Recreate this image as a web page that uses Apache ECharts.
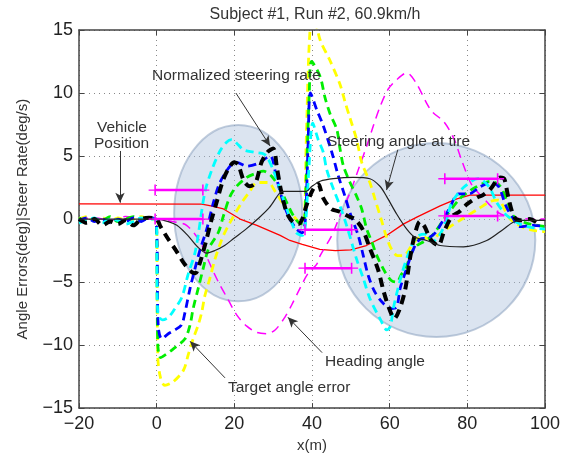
<!DOCTYPE html>
<html>
<head>
<meta charset="utf-8">
<script src="https://cdn.jsdelivr.net/npm/echarts@6/dist/echarts.min.js"></script>
<style>
  html, body { margin: 0; padding: 0; background: #fff; }
  #chart { width: 572px; height: 458px; }
</style>
</head>
<body>
<div id="chart"></div>
<script>
var FONT = '"Liberation Sans", Arial, sans-serif';

// axis ticks
var xTicks = [-20, 0, 20, 40, 60, 80, 100];
var yTicks = [-15, -10, -5, 0, 5, 10, 15];

// Vehicle position (red)
var vehiclePos = [[-20,1.2],[11.6,1.18],[14,1.05],[17.2,0.8],[21.5,0],[25.8,-0.5],[31.8,-1.3],[34.3,-1.7],[37.5,-2.0],[42,-2.4],[46,-2.5],[50,-2.45],[54,-2.1],[59.2,-1.3],[63.5,-0.4],[67,0.15],[73,1.05],[77.3,1.6],[80.7,1.9],[100,1.9]];

// Steering angle at tire (thin black)
var steerAngle = [[-20,0],[-10,0],[0,0],[3,-0.2],[5.2,-0.5],[8,-1.3],[10.5,-2.2],[12.9,-2.7],[15,-2.5],[17.5,-2.1],[20,-1.5],[23,-0.8],[26,0],[29,0.9],[31.5,2.0],[32.5,2.2],[38.5,2.2],[40,2.6],[42.1,3.0],[45.5,3.2],[50.6,3.3],[54.9,3.2],[57.5,2.6],[59.2,1.8],[61.8,0.4],[64.4,-0.8],[66.5,-1.45],[69.5,-1.7],[73,-2.1],[79,-2.2],[85,-1.7],[89.3,-0.8],[91.8,-0.26],[94,-0.1],[100,-0.1]];

// Normalized steering rate (thick black dashed)
var steerRate = [[-20,0],[-18,-0.3],[-16,0],[-14,-0.5],[-12,-0.2],[-10,-0.4],[-8,-0.1],[-6,-0.5],[-4,0],[-2,0.1],[0,0],[1,-0.6],[3,-1.6],[5,-2.5],[7,-3.5],[9,-4.2],[10,-4.3],[11,-3.6],[12.5,-2],[14,-0.2],[15.5,1.4],[17,3],[18.5,4],[20,4.5],[21,4.3],[22.5,3],[24,2.6],[25.5,2.9],[27,4.5],[28.5,5.3],[30,5.6],[31,4],[32,2.3],[33.5,0.5],[35,-0.2],[36.5,-0.4],[37.5,0],[38.5,1],[40,2.2],[41.5,2.8],[43,1.6],[45,0.8],[47,0.6],[49.5,0.2],[51,0],[53,-0.8],[55,-2.4],[57,-4],[58.5,-5.8],[60,-7.2],[61.2,-7.9],[62.5,-7.2],[64,-5.6],[65.3,-3],[66.5,-1.2],[67.8,-0.2],[69,-0.6],[70.5,-1.6],[72.5,-2.1],[74,-1],[76,0.2],[78,0.6],[80,1.2],[82.5,1.7],[84,1.9],[86,2.4],[88.5,3.3],[89.5,3.2],[90.5,1.8],[92,0.2],[93.5,-0.1],[96,0],[98,-0.3]];

// Target angle errors (coloured dashed)
var errCyan = [[-20,-0.3],[-18,-0.1],[-16,0.1],[-14,-0.3],[-12,0],[-10,-0.1],[-8,-0.4],[-6,-0.2],[-4,0.1],[-2,0],[-0.2,0],[0.3,-7.5],[1.5,-8.0],[3,-7.8],[4.5,-7.2],[6.5,-6.2],[8,-4.5],[10,-2.5],[12.4,2.1],[14.2,3.9],[16.3,5.4],[18,6.1],[19.3,6.3],[21,5.9],[22.3,5.5],[25,5.3],[27.9,5.1],[30,3.9],[32.6,1.6],[34.8,-0.3],[36,-1.1],[37.5,-1.3],[38.3,-0.5],[39.2,4],[40.2,7.6],[41.6,6.3],[42.9,5.3],[43.8,3.9],[45.5,2.4],[47.2,1.05],[48.9,-0.5],[51.5,-3.2],[53.2,-4.7],[54.9,-6.3],[57.5,-7.9],[59.3,-8.8],[60.2,-8.5],[61,-7],[63,-4.5],[65,-2.6],[67,-1.4],[69,-1.2],[71,-1.8],[73,-1.2],[74.7,0],[76,1.3],[79,2.5],[82.8,3.2],[85.5,2.6],[87.6,1.3],[90.1,0.3],[93.6,-0.4],[97,-0.7],[100,-0.8]];
var errBlue = [[-20,-0.1],[-18,0.1],[-16,-0.2],[-14,0],[-12,-0.3],[-10,0],[-8,-0.2],[-6,0.1],[-4,-0.2],[-2,0.1],[-0.2,0],[0.4,-8.5],[1.3,-9.5],[3,-9.1],[4.7,-8.8],[6.4,-8.4],[7.3,-7.4],[8.6,-5.5],[9.9,-3.9],[11.2,-2.4],[12.9,-0.8],[14.6,1.3],[16.3,2.9],[18.9,4.2],[20.6,4.5],[23.2,4.2],[26,4.4],[29.2,5.0],[30.9,3.2],[32.6,1.3],[34.3,0],[36,-0.8],[37.5,-1.1],[38.3,0],[39,6],[39.6,10],[41.2,8.7],[42.9,7.4],[45.1,5.3],[46.8,3.4],[48.5,1.8],[50,0.3],[51.9,-1.3],[53.2,-2.9],[54.5,-4.5],[56.2,-5.8],[58.4,-6.7],[60.5,-7.1],[61.8,-7.0],[62.7,-5.5],[64.4,-3.9],[66.1,-2.4],[67.8,-1.6],[70,-1.5],[72,-1.0],[75.5,0.9],[77.7,2.0],[80.5,2.0],[83,2.5],[86,2.9],[88,2.6],[90,1.0],[91.5,0.2],[93.6,-0.6],[97,-0.5],[100,-0.6]];
var errGreen = [[-20,0.1],[-18,-0.2],[-16,0],[-14,-0.1],[-12,0.2],[-10,-0.2],[-8,0],[-6,0.2],[-4,-0.1],[-2,0.1],[-0.2,0],[0.3,-10],[1,-11],[2.1,-10.8],[4.3,-10.3],[7.3,-9.5],[8.6,-8.4],[9.4,-7.1],[10.7,-5.5],[12,-3.9],[13.3,-2.4],[15.9,-1.05],[17.2,0.26],[18.9,1.8],[20.6,2.6],[23.2,3.3],[25.3,3.6],[27.5,3.8],[29.6,3.4],[31.8,2.4],[33.5,1.3],[35.2,0.26],[36.5,-0.26],[37.8,-0.4],[38.5,3],[39.3,10],[39.9,12.5],[42.1,11.3],[43.3,9.7],[44.6,8.4],[46.4,7.1],[47.2,5.6],[48.1,4.2],[49.8,2.9],[51.5,1.8],[52.8,0.8],[54.1,-0.8],[55.4,-1.8],[56.7,-2.9],[58.8,-4.2],[60.5,-4.9],[61.8,-5.0],[63,-4.4],[64.4,-3.7],[65.7,-2.6],[67,-2.1],[68.7,-1.8],[71,-1.3],[74,0],[78,1.6],[80,2.1],[82,2.5],[86,3.0],[88.5,2.6],[90.5,1.2],[92,0.2],[95,-0.3],[100,-0.6]];
var errYellow = [[-20,0],[-18,0.2],[-16,-0.1],[-14,0.1],[-12,-0.2],[-10,0.1],[-8,-0.1],[-6,0],[-4,0.2],[-2,0],[-0.2,0],[0.3,-11],[1,-12.6],[2.1,-13.2],[4.3,-12.9],[6.9,-12],[8.1,-10.8],[9.4,-9.5],[10.7,-8.4],[11.6,-7.4],[12.4,-6.1],[13.7,-4.7],[15,-3.2],[16.3,-2.0],[17.2,-1.3],[18.9,-0.26],[21.9,1.3],[24,2.2],[25.8,2.9],[28.7,2.9],[30.5,2.2],[33.5,0.8],[35.2,0.26],[36.5,-0.2],[37.8,-0.3],[38.5,6],[39.3,14],[40.2,16.5],[42.1,14.2],[44.6,12.6],[47.2,10.7],[48.5,9.3],[49.8,8.0],[51.5,6.3],[52.8,4.5],[54.9,2.9],[56.2,1.6],[57.9,-0.1],[59.2,-1.45],[60.5,-2.4],[62,-2.9],[63.5,-2.9],[65.7,-2.1],[67,-1.6],[68.5,-1.4],[70.4,-1.6],[74,-0.9],[78.1,-0.1],[82.8,0.8],[86,1.4],[88,1.5],[90,0.5],[91,0],[94.4,-0.66],[97,-0.9],[100,-1.0]];

// Heading angle (thin magenta dashed)
var heading = [[-20,0],[-16,0.1],[-12,-0.1],[-8,0.2],[-4,0],[0,0],[4,-0.2],[7.7,-0.5],[11.2,-1.8],[12.9,-3.0],[14.2,-3.9],[15.9,-5.0],[18.4,-6.4],[20.6,-7.6],[23.2,-8.5],[25.8,-9.0],[28.3,-9.1],[30.5,-8.8],[33,-7.8],[34.8,-6.8],[36.9,-5.5],[39,-4.3],[41.2,-3.6],[42.1,-2.9],[45.1,-1.3],[47.2,0.26],[49.8,2.1],[51.9,3.9],[54.1,5.8],[55.8,7.4],[57.5,8.9],[59.6,10.3],[61.8,11.05],[64.4,11.6],[67,10.7],[69.5,9.2],[71,8.5],[74,7.7],[76.5,6.4],[78.5,4.7],[81,2.8],[84,1.7],[88,0.5],[92,0.1],[100,0]];

// magenta reference bars with '+' ends: [x0, x1, y]
var refBars = [[-0.4, 11.9, 2.3], [-0.4, 11.9, 0], [38.2, 50.2, -0.85], [38.2, 50.2, -3.9], [74.2, 87.8, 3.2], [74.2, 87.8, 0.25]];

// shaded ellipses: [cx, cy, rx, ry]
var ellipses = [[21, 0.47, 16.5, 7.0], [72, -1.66, 25.5, 7.7]];

// annotation arrows: [[x0,y0],[x1,y1]] (tail -> head)
var arrows = [
    [[20.4, 10.0], [29.2, 5.8]],
    [[-9.45, 5.4], [-9.45, 1.3]],
    [[62.1, 5.5], [59.2, 2.3]],
    [[42.6, -10.6], [33.8, -7.8]],
    [[17.6, -12.6], [8.6, -9.7]]
];

var myChart = echarts.init(document.getElementById('chart'));

var plusSymbol = 'path://M-1,-0.12H1V0.12H-1Z M-0.12,-1H0.12V1H-0.12Z';

function minusFmt(v) {
    return String(v).replace('-', '\u2212');
}

function dashed(name, data, color, width, dash, z) {
    return {
        name: name,
        type: 'line',
        data: data,
        showSymbol: false,
        symbol: 'none',
        smooth: 0.3,
        z: z,
        animation: false,
        lineStyle: {color: color, width: width, type: dash}
    };
}

var series = [];

series.push({
    type: 'custom',
    z: 1,
    silent: true,
    animation: false,
    data: ellipses,
    renderItem: function (params, api) {
        var c = api.coord([api.value(0), api.value(1)]);
        var s = api.size([api.value(2), api.value(3)]);
        return {
            type: 'ellipse',
            shape: {cx: c[0], cy: c[1], rx: s[0], ry: s[1]},
            style: {fill: 'rgba(170,190,220,0.42)', stroke: 'rgba(140,162,192,0.55)', lineWidth: 2}
        };
    }
});

series.push({
    name: 'Vehicle Position',
    type: 'line',
    data: vehiclePos,
    showSymbol: false,
    symbol: 'none',
    z: 3,
    animation: false,
    lineStyle: {color: '#ff0000', width: 1.3},
    markLine: {
        silent: true,
        animation: false,
        symbol: ['none', 'arrow'],
        symbolSize: [7, 10],
        label: {show: false},
        lineStyle: {color: '#333', width: 1, type: 'solid'},
        data: arrows.map(function (a) {
            return [{coord: a[0]}, {coord: a[1]}];
        })
    }
});

series.push(dashed('Heading angle', heading, '#ff00ff', 1.5, [9, 6], 3));
series.push(dashed('yellow', errYellow, '#ffff00', 2.8, [8, 5], 4));
series.push(dashed('green', errGreen, '#00ee00', 2.8, [8, 5], 5));
series.push(dashed('blue', errBlue, '#0000ff', 2.8, [8, 5], 6));
series.push(dashed('cyan', errCyan, '#00ffff', 2.8, [8, 5], 7));
series.push(dashed('Normalized steering rate', steerRate, '#000', 4, [9, 6], 8));

series.push({
    name: 'Steering angle at tire',
    type: 'line',
    data: steerAngle,
    showSymbol: false,
    symbol: 'none',
    smooth: 0.3,
    z: 9,
    animation: false,
    lineStyle: {color: '#222', width: 1.2}
});

refBars.forEach(function (b) {
    series.push({
        type: 'line',
        data: [[b[0], b[2]], [b[1], b[2]]],
        symbol: plusSymbol,
        symbolSize: [13, 11],
        showAllSymbol: true,
        z: 10,
        animation: false,
        itemStyle: {color: '#ff00ff'},
        lineStyle: {color: '#ff00ff', width: 2.5}
    });
});

var axisCommon = {
    axisLine: {show: true, onZero: false, lineStyle: {color: '#444', width: 1.5}},
    axisTick: {show: true, inside: true, length: 5, lineStyle: {color: '#444'}}
};

var option = {
    backgroundColor: '#fff',
    title: {
        text: 'Subject #1, Run #2, 60.9km/h',
        left: 310,
        textAlign: 'center',
        top: 2,
        textStyle: {fontFamily: FONT, fontSize: 16, fontWeight: 'normal', color: '#333'}
    },
    grid: {left: 79, right: 27, top: 30, bottom: 47, containLabel: false},
    xAxis: [
        Object.assign({
            type: 'value', min: xTicks[0], max: xTicks[xTicks.length - 1], interval: 20,
            position: 'bottom',
            name: 'x(m)', nameLocation: 'middle', nameGap: 23,
            nameTextStyle: {fontFamily: FONT, fontSize: 15, color: '#333'},
            axisLabel: {fontFamily: FONT, fontSize: 18, color: '#222', margin: 7, formatter: minusFmt},
            splitLine: {show: true, lineStyle: {color: '#888', width: 1, type: [1, 4]}}
        }, axisCommon),
        Object.assign({
            type: 'value', min: xTicks[0], max: xTicks[xTicks.length - 1], interval: 20,
            position: 'top',
            axisLabel: {show: false},
            splitLine: {show: false}
        }, axisCommon)
    ],
    yAxis: [
        Object.assign({
            type: 'value', min: yTicks[0], max: yTicks[yTicks.length - 1], interval: 5,
            position: 'left',
            name: 'Angle Errors(deg)|Steer Rate(deg/s)', nameLocation: 'middle', nameGap: 49,
            nameTextStyle: {fontFamily: FONT, fontSize: 15, color: '#333'},
            axisLabel: {fontFamily: FONT, fontSize: 18, color: '#222', margin: 6, formatter: minusFmt},
            splitLine: {show: true, lineStyle: {color: '#888', width: 1, type: [1, 4]}}
        }, axisCommon),
        Object.assign({
            type: 'value', min: yTicks[0], max: yTicks[yTicks.length - 1], interval: 5,
            position: 'right',
            axisLabel: {show: false},
            splitLine: {show: false}
        }, axisCommon)
    ],
    graphic: [
        {type: 'text', left: 152, top: 68, z: 100, style: {text: 'Normalized steering rate', font: '15.5px ' + FONT, fill: '#333'}},
        {type: 'text', left: 97, top: 120, z: 100, style: {text: 'Vehicle', font: '15.5px ' + FONT, fill: '#333'}},
        {type: 'text', left: 94, top: 136, z: 100, style: {text: 'Position', font: '15.5px ' + FONT, fill: '#333'}},
        {type: 'text', left: 327, top: 134, z: 100, style: {text: 'Steering angle at tire', font: '15.5px ' + FONT, fill: '#333'}},
        {type: 'text', left: 325, top: 354, z: 100, style: {text: 'Heading angle', font: '15.5px ' + FONT, fill: '#333'}},
        {type: 'text', left: 228, top: 380, z: 100, style: {text: 'Target angle error', font: '15.5px ' + FONT, fill: '#333'}}
    ],
    series: series
};

myChart.setOption(option);
</script>
</body>
</html>
